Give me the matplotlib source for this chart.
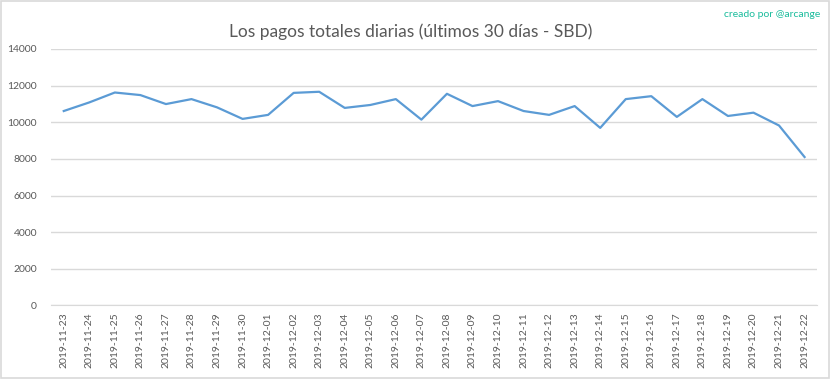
import matplotlib
matplotlib.use('Agg')
import matplotlib.pyplot as plt
import numpy as np
from matplotlib.patches import Rectangle

dates = [
    '2019-11-23', '2019-11-24', '2019-11-25', '2019-11-26', '2019-11-27',
    '2019-11-28', '2019-11-29', '2019-11-30', '2019-12-01', '2019-12-02',
    '2019-12-03', '2019-12-04', '2019-12-05', '2019-12-06', '2019-12-07',
    '2019-12-08', '2019-12-09', '2019-12-10', '2019-12-11', '2019-12-12',
    '2019-12-13', '2019-12-14', '2019-12-15', '2019-12-16', '2019-12-17',
    '2019-12-18', '2019-12-19', '2019-12-20', '2019-12-21', '2019-12-22',
]
payouts = [
    10610, 11080, 11620, 11480, 10990, 11260, 10810, 10180, 10400, 11600,
    11660, 10780, 10940, 11260, 10140, 11550, 10880, 11150, 10610, 10400,
    10880, 9690, 11260, 11420, 10290, 11260, 10340, 10520, 9820, 8100,
]
y_ticks = [0, 2000, 4000, 6000, 8000, 10000, 12000, 14000]

plt.rcParams['font.family'] = ['Lato', 'DejaVu Sans']

fig = plt.figure(figsize=(8.33, 3.79), dpi=100)
ax = fig.add_axes([0.0612, 0.194, 0.920, 0.677])

x = np.arange(len(dates))
ax.plot(x, payouts, color='#5b9bd5', linewidth=1.6, solid_joinstyle='round', zorder=3)

ax.set_xlim(-0.5, len(dates) - 0.5)
ax.set_ylim(0, 14000)
ax.set_yticks(y_ticks)
ax.set_yticklabels([str(v) for v in y_ticks])
ax.set_xticks(x)
ax.set_xticklabels(dates, rotation=90)
ax.tick_params(axis='both', length=0, labelsize=7.5, colors='#595959')
ax.tick_params(axis='x', pad=5)
ax.tick_params(axis='y', pad=10)
ax.grid(axis='y', color='#d9d9d9', linewidth=1.0)
ax.set_axisbelow(True)
for side in ['top', 'right', 'left']:
    ax.spines[side].set_visible(False)
ax.spines['bottom'].set_color('#d9d9d9')

fig.text(0.493, 0.915, 'Los pagos totales diarias (últimos 30 días - SBD)',
         ha='center', va='center', fontsize=12.5, color='#595959')
fig.text(0.985, 0.962, 'creado por @arcange', ha='right', va='center',
         fontsize=7.5, color='#1abc9c')

fig.patches.append(Rectangle((0.001, 0.002), 0.994, 0.995, transform=fig.transFigure,
                             fill=False, edgecolor='#d9d9d9', linewidth=1.2))

fig.savefig('out.png', dpi=100)
